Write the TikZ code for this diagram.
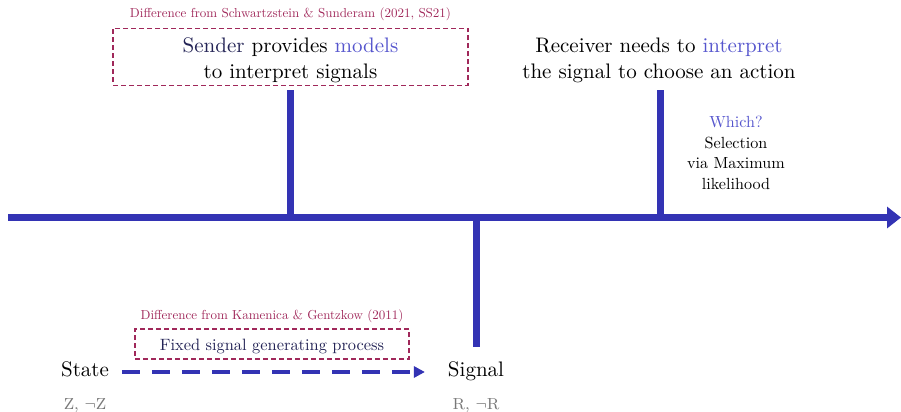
\documentclass[tikz,border=0pt]{standalone}
\usepackage{amssymb,amsmath}
\usepackage{tikz}
\usetikzlibrary{arrows.meta}

\definecolor{lineblue}{RGB}{51,51,180}
\definecolor{wordblue}{RGB}{85,85,205}
\definecolor{navy}{RGB}{35,35,85}
\definecolor{maroon}{RGB}{160,40,90}
\definecolor{stategray}{RGB}{120,120,120}

\tikzset{
  timeline/.style={lineblue,line width=3.5pt,-{Triangle[length=7pt,width=10.5pt]}},
  tick/.style={lineblue,line width=3.5pt},
  flow/.style={lineblue,line width=2pt,dash pattern=on 9pt off 6pt,-{Triangle[length=5.5pt,width=5.5pt]}},
  diffbox/.style={draw=maroon,line width=0.6pt,dash pattern=on 2.5pt off 1.5pt},
  difflabel/.style={maroon,font=\fontsize{10}{12}\selectfont,scale=0.65,transform shape},
  bigtext/.style={align=center,font=\fontsize{10.5}{13}\selectfont},
  smalltext/.style={align=center,font=\fontsize{10}{12.7}\selectfont,scale=0.806,transform shape},
  endpoint/.style={font=\fontsize{10.5}{13}\selectfont,text height=1.6ex,text depth=.45ex},
  values/.style={stategray,font=\fontsize{8}{10}\selectfont}
}

\begin{document}
\begin{tikzpicture}[x=0.5pt,y=-0.5pt]

%\draw[help lines] (0,0) grid[step=50] (901,412);
\useasboundingbox (0,0) rectangle (901,412);

\coordinate (start) at (8,217.5);
\coordinate (end) at (901,217.5);
\coordinate (sender) at (290.8,217.5);
\coordinate (sender top) at (290.8,89.5);
\coordinate (receiver) at (660,217.5);
\coordinate (receiver top) at (660,89.5);
\coordinate (signal cut) at (476,217.5);
\coordinate (signal bottom) at (476,347);

\draw[tick] (sender) -- (sender top);
\draw[tick] (receiver) -- (receiver top);
\draw[tick] (signal cut) -- (signal bottom);
\draw[timeline] (start) -- (end);

\node[difflabel] (ss label) at (290.5,14) {Difference from Schwartzstein \& Sunderam (2021, SS21)};
\node[diffbox,minimum width=177.5pt,minimum height=28.5pt] (ss box) at (290.5,56.8) {};
\node[bigtext] (sender text) at (290.5,60.5) {\textcolor{navy}{Sender} provides \textcolor{wordblue}{models}\\to interpret signals};

\node[bigtext] (receiver text) at (659,60.5) {Receiver needs to \textcolor{wordblue}{interpret}\\the signal to choose an action};
\node[smalltext] (which) at (736,153) {\textcolor{wordblue}{Which?}\\Selection\\via Maximum\\likelihood};

\node[difflabel] (kg label) at (272,316) {Difference from Kamenica \& Gentzkow (2011)};
\node[diffbox,minimum width=137pt,minimum height=15pt] (kg box) at (272,344) {};
\node[navy,font=\fontsize{10}{12}\selectfont,scale=0.82,transform shape] (process) at (272,346) {Fixed signal generating process};

\node[endpoint] (state) at (85,372) {State};
\node[endpoint] (signal) at (476,372) {Signal};
\node[values] (state values) at (85,406) {Z, $\neg$Z};
\node[values] (signal values) at (476,406) {R, $\neg$R};

\draw[flow,shorten <=3pt,shorten >=8pt] (state) -- (signal);

\end{tikzpicture}
\end{document}
